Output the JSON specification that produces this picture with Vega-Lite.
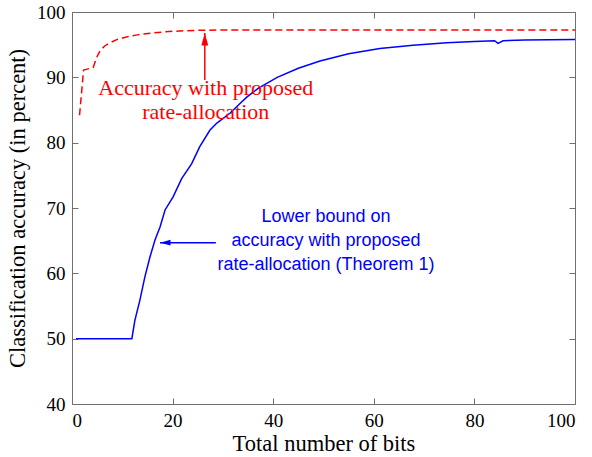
{
  "$schema": "https://vega.github.io/schema/vega-lite/v6.json",
  "width": 503,
  "height": 392,
  "autosize": "none",
  "padding": {"left": 72, "top": 12, "right": 17, "bottom": 53},
  "background": "white",
  "config": {
    "view": {"stroke": null},
    "axis": {
      "grid": false,
      "domainColor": "#707070",
      "domainWidth": 1,
      "tickColor": "#707070",
      "tickSize": -6,
      "labelFont": "Liberation Serif",
      "labelFontSize": 19,
      "labelColor": "black",
      "titleFont": "Liberation Serif",
      "titleFontSize": 22.5,
      "titleFontWeight": "normal",
      "titleColor": "black"
    }
  },
  "datasets": {
    "red": [
      {"bits": 1.5, "acc": 84.2}, {"bits": 2.3, "acc": 91.1}, {"bits": 4.2, "acc": 91.5},
      {"bits": 5.0, "acc": 93.2}, {"bits": 5.6, "acc": 94.1}, {"bits": 6.5, "acc": 94.8},
      {"bits": 7.6, "acc": 95.3}, {"bits": 9, "acc": 95.8}, {"bits": 11, "acc": 96.2},
      {"bits": 13, "acc": 96.5}, {"bits": 16, "acc": 96.8}, {"bits": 20, "acc": 97.05},
      {"bits": 25, "acc": 97.2}, {"bits": 30, "acc": 97.25}, {"bits": 100, "acc": 97.25}
    ],
    "blue": [
      {"bits": 0.8, "acc": 50}, {"bits": 11.9, "acc": 50}, {"bits": 12.5, "acc": 52.8},
      {"bits": 13.5, "acc": 55.9}, {"bits": 14.5, "acc": 59.5}, {"bits": 15.5, "acc": 62.5},
      {"bits": 16.5, "acc": 65.1}, {"bits": 17.5, "acc": 67.1}, {"bits": 18.5, "acc": 69.7},
      {"bits": 20.1, "acc": 71.7}, {"bits": 21.8, "acc": 74.5}, {"bits": 23.8, "acc": 76.8},
      {"bits": 25.4, "acc": 79.4}, {"bits": 27.4, "acc": 81.9}, {"bits": 28.8, "acc": 83.0},
      {"bits": 31.4, "acc": 84.5}, {"bits": 33.4, "acc": 86.0}, {"bits": 34.8, "acc": 87.0},
      {"bits": 37, "acc": 88.3}, {"bits": 40.8, "acc": 90.0}, {"bits": 45, "acc": 91.4},
      {"bits": 49.3, "acc": 92.5}, {"bits": 55, "acc": 93.6}, {"bits": 61.2, "acc": 94.4},
      {"bits": 67.8, "acc": 94.9}, {"bits": 74.5, "acc": 95.3}, {"bits": 80, "acc": 95.5},
      {"bits": 84, "acc": 95.6}, {"bits": 84.7, "acc": 95.2}, {"bits": 85.7, "acc": 95.6},
      {"bits": 90, "acc": 95.7}, {"bits": 100, "acc": 95.8}
    ],
    "redArrow": [{"x": 26.4, "y": 89.6, "x2": 26.4, "y2": 96.8}],
    "blueArrow": [{"x": 28.6, "y": 64.7, "x2": 17.5, "y2": 64.7}],
    "redNote": [{"x": 26.6, "y": 88.4, "label": "Accuracy with proposed\nrate-allocation"}],
    "blueNote": [{"x": 50.5, "y": 68.6, "label": "Lower bound on\naccuracy with proposed\nrate-allocation (Theorem 1)"}]
  },
  "layer": [
    {
      "data": {"name": "red"},
      "mark": {"type": "line", "color": "#ff0000", "strokeWidth": 1.5, "strokeDash": [7, 4], "clip": true},
      "encoding": {
        "x": {"field": "bits", "type": "quantitative", "scale": {"domain": [0, 100], "nice": false, "zero": false},
              "axis": {"orient": "bottom", "values": [0, 20, 40, 60, 80, 100], "title": "Total number of bits", "labelPadding": 13, "titlePadding": 2}},
        "y": {"field": "acc", "type": "quantitative", "scale": {"domain": [40, 100], "nice": false, "zero": false},
              "axis": {"orient": "left", "values": [40, 50, 60, 70, 80, 90, 100], "title": "Classification accuracy (in percent)", "labelPadding": 13, "titlePadding": 7}}
      }
    },
    {
      "data": {"name": "blue"},
      "mark": {"type": "line", "color": "#0000ff", "strokeWidth": 1.5, "clip": true},
      "encoding": {
        "x": {"field": "bits", "type": "quantitative",
              "axis": {"orient": "top", "values": [0, 20, 40, 60, 80, 100], "labels": false, "title": null}},
        "y": {"field": "acc", "type": "quantitative",
              "axis": {"orient": "right", "values": [40, 50, 60, 70, 80, 90, 100], "labels": false, "title": null}}
      }
    },
    {
      "data": {"name": "redArrow"},
      "mark": {"type": "rule", "color": "#ff0000", "strokeWidth": 1.5},
      "encoding": {
        "x": {"field": "x", "type": "quantitative", "axis": null},
        "y": {"field": "y", "type": "quantitative", "axis": null},
        "y2": {"field": "y2"}
      }
    },
    {
      "data": {"name": "redArrow"},
      "mark": {"type": "point", "shape": "M0,0L-0.55,2L0.55,2Z", "filled": true, "color": "#ff0000", "opacity": 1, "size": 160, "strokeWidth": 0},
      "encoding": {
        "x": {"field": "x2", "type": "quantitative", "axis": null},
        "y": {"field": "y2", "type": "quantitative", "axis": null}
      }
    },
    {
      "data": {"name": "blueArrow"},
      "mark": {"type": "rule", "color": "#0000ff", "strokeWidth": 1.5},
      "encoding": {
        "x": {"field": "x", "type": "quantitative", "axis": null},
        "x2": {"field": "x2"},
        "y": {"field": "y", "type": "quantitative", "axis": null}
      }
    },
    {
      "data": {"name": "blueArrow"},
      "mark": {"type": "point", "shape": "M0,0L2,-0.55L2,0.55Z", "filled": true, "color": "#0000ff", "opacity": 1, "size": 110, "strokeWidth": 0},
      "encoding": {
        "x": {"field": "x2", "type": "quantitative", "axis": null},
        "y": {"field": "y2", "type": "quantitative", "axis": null}
      }
    },
    {
      "data": {"name": "redNote"},
      "mark": {"type": "text", "font": "Liberation Serif", "fontSize": 22, "color": "#ff0000", "align": "center", "baseline": "middle", "lineBreak": "\n", "lineHeight": 24},
      "encoding": {
        "x": {"field": "x", "type": "quantitative", "axis": null},
        "y": {"field": "y", "type": "quantitative", "axis": null},
        "text": {"field": "label"}
      }
    },
    {
      "data": {"name": "blueNote"},
      "mark": {"type": "text", "font": "Liberation Sans", "fontSize": 18, "color": "#0000ff", "align": "center", "baseline": "middle", "lineBreak": "\n", "lineHeight": 24},
      "encoding": {
        "x": {"field": "x", "type": "quantitative", "axis": null},
        "y": {"field": "y", "type": "quantitative", "axis": null},
        "text": {"field": "label"}
      }
    }
  ],
  "resolve": {"axis": {"x": "independent", "y": "independent"}}
}
